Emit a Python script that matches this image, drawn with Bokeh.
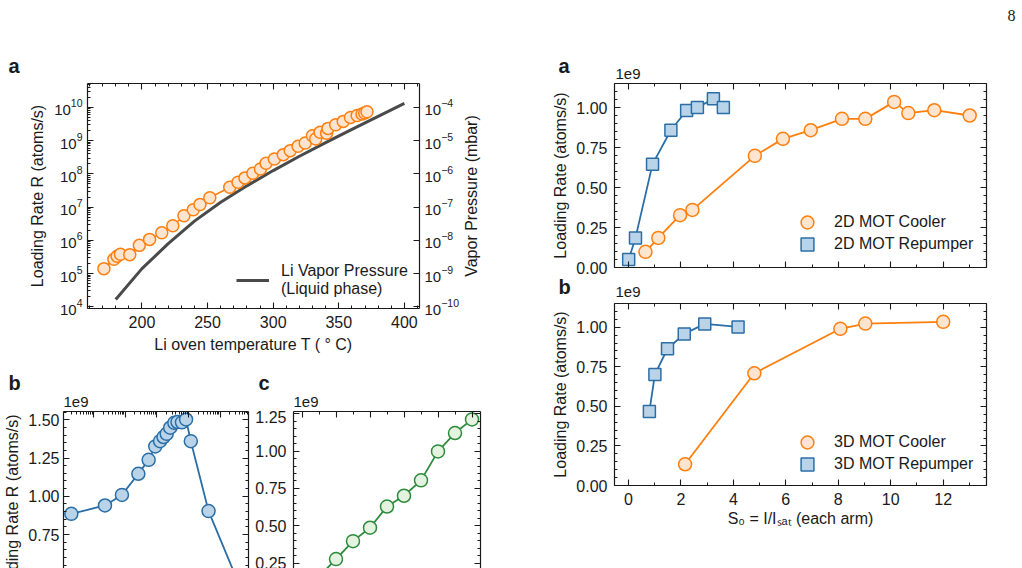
import math
from bokeh.plotting import figure
from bokeh.layouts import row, column
from bokeh.models import (Range1d, LogScale, LinearAxis, LogAxis, FixedTicker,
                          SingleIntervalTicker, CustomJSTickFormatter, LogTickFormatter,
                          NumeralTickFormatter, Label, Legend, LegendItem)
from bokeh.embed import file_html
from bokeh.resources import INLINE

FONT = "Liberation Sans"
INK = "#1a1a1a"
ORANGE = "#ff7f0e"
ORANGE_FILL = "#ffe5cf"
BLUE = "#2b6ea6"
BLUE_FILL = "#b9d4e9"
GREEN = "#2e8b3e"
GREEN_FILL = "#e4f3df"
CURVE = "#4a4a4a"

# ---------------- data: panel a (left) ----------------
oven_T = [171.0, 178.6, 181.1, 183.6, 190.7, 198.0, 205.8, 215.1, 223.5, 232.0,
          239.1, 244.2, 251.7, 266.9, 273.2, 278.5, 284.5, 290.3, 294.6, 300.9,
          307.7, 313.0, 319.0, 324.4, 329.9, 332.4, 335.7, 340.7, 341.8, 347.6,
          353.4, 358.9, 364.0, 367.7, 369.7, 371.5]
loading_rate = [1.41e5, 2.69e5, 3.31e5, 3.80e5, 3.72e5, 7.08e5, 1.07e6, 1.70e6, 2.75e6, 5.50e6,
                8.32e6, 1.20e7, 1.91e7, 3.98e7, 5.62e7, 7.59e7, 1.05e8, 1.41e8, 2.09e8, 2.82e8,
                3.80e8, 5.01e8, 6.76e8, 8.51e8, 1.41e9, 1.12e9, 1.78e9, 1.66e9, 2.34e9, 3.02e9,
                3.80e9, 5.01e9, 5.75e9, 6.31e9, 6.76e9, 7.41e9]
vp_T = [180, 200, 220, 240, 260, 280, 300, 320, 340, 360, 380, 400]
vp_mbar = [1.66e-10, 1.41e-9, 7.94e-9, 3.80e-8, 1.41e-7, 4.37e-7, 1.26e-6, 3.39e-6,
           8.71e-6, 2.19e-5, 5.37e-5, 1.32e-4]

# ---------------- data: panel b (left, log x) ----------------
b_x = [0.20, 2.3, 7.9, 26, 55, 89, 126, 162, 204, 263, 355, 447, 617, 832, 1175, 4266, 41700]
b_rate = [0.885, 0.940, 1.009, 1.147, 1.238, 1.326, 1.360, 1.387, 1.408, 1.448, 1.480,
          1.485, 1.483, 1.502, 1.360, 0.903, 0.410]

# ---------------- data: panel c (left) ----------------
c_x = [0, 1, 2, 3, 4, 5, 6, 7, 8, 9, 10]
c_rate = [0.05, 0.16, 0.277, 0.397, 0.487, 0.629, 0.701, 0.804, 0.998, 1.121, 1.212]

# ---------------- data: right panels ----------------
s2d_cool = [0.65, 1.14, 1.97, 2.44, 4.82, 5.89, 6.95, 8.14, 9.03, 10.13, 10.67, 11.66, 13.01]
r2d_cool = [0.098, 0.185, 0.327, 0.360, 0.698, 0.804, 0.858, 0.929, 0.929, 1.035, 0.965, 0.983, 0.950]
s2d_rep = [0.01, 0.27, 0.92, 1.62, 2.22, 2.63, 3.24, 3.62]
r2d_rep = [0.05, 0.185, 0.646, 0.858, 0.981, 1.0, 1.054, 1.0]
s3d_cool = [2.16, 4.80, 8.08, 9.03, 12.0]
r3d_cool = [0.134, 0.709, 0.99, 1.023, 1.034]
s3d_rep = [0.80, 1.01, 1.49, 2.13, 2.91, 4.18]
r3d_rep = [0.468, 0.702, 0.864, 0.958, 1.021, 1.002]


def style_axis(ax, labels=True):
    ax.axis_line_color = INK
    ax.axis_line_width = 1.2
    ax.major_tick_in = 6
    ax.major_tick_out = 0
    ax.minor_tick_in = 3
    ax.minor_tick_out = 0
    ax.major_tick_line_color = INK
    ax.minor_tick_line_color = INK
    ax.major_tick_line_width = 1.1
    ax.minor_tick_line_width = 1.0
    ax.major_label_text_font = FONT
    ax.major_label_text_font_size = "16px"
    ax.major_label_text_color = INK
    ax.major_label_standoff = 7
    ax.axis_label_text_font = FONT
    ax.axis_label_text_font_size = "16px"
    ax.axis_label_text_font_style = "normal"
    ax.axis_label_text_color = INK
    ax.axis_label_standoff = 5
    if not labels:
        ax.formatter = CustomJSTickFormatter(code="return '';")
        ax.major_label_text_font_size = "0px"
        ax.major_label_standoff = 0


def base(fig):
    fig.grid.visible = False
    fig.outline_line_color = None
    fig.background_fill_color = "white"
    fig.border_fill_color = "white"
    if "frame_align" in fig.properties():
        fig.frame_align = False


def strip(w, h):
    s = figure(width=w, height=h, x_range=Range1d(0, w), y_range=Range1d(0, h),
               x_axis_location=None, y_axis_location=None,
               min_border_left=0, min_border_right=0, min_border_top=0, min_border_bottom=0,
               output_backend="svg", toolbar_location=None)
    base(s)
    return s


def txt(fig, x, y, s, size="16px", bold=False, font=FONT, **kw):
    fig.add_layout(Label(x=x, y=y, text=s, text_font=font, text_font_size=size,
                         text_font_style="bold" if bold else "normal",
                         text_color=INK, **kw))


def legend_one(fig, label, rend, x, y):
    fig.add_layout(Legend(items=[LegendItem(label=label, renderers=[rend])],
                          location=(x, y), border_line_color=None, background_fill_alpha=0,
                          padding=0, margin=0, glyph_width=32, glyph_height=32,
                          label_standoff=11, label_text_font=FONT,
                          label_text_font_size="16px", label_text_color=INK))


# ================= Panel a (left) =================
stripA = strip(510, 82)
txt(stripA, 8, 5.3, "a", size="20px", bold=True)

figA = figure(width=461, height=280, x_range=Range1d(158.5, 411.5),
              y_range=Range1d(10 ** 3.95, 10 ** 10.72), y_axis_type="log",
              min_border_left=87, min_border_right=42, min_border_top=1, min_border_bottom=54,
              output_backend="svg", toolbar_location=None)
base(figA)
figA.extra_y_ranges = {"vp": Range1d(10 ** -10.05, 10 ** -3.28)}
figA.extra_y_scales = {"vp": LogScale()}

xt = SingleIntervalTicker(interval=50, num_minor_ticks=5)
yt = FixedTicker(ticks=[10.0 ** k for k in range(4, 11)],
                 minor_ticks=[m * 10.0 ** k for k in range(3, 11) for m in range(2, 10)])
vt = FixedTicker(ticks=[10.0 ** k for k in range(-10, -3)], minor_ticks=[])

xa = figA.xaxis[0]
xa.ticker = xt
xa.axis_label = "Li oven temperature T ( \u00b0 C)"
style_axis(xa)
ya = figA.yaxis[0]
ya.ticker = yt
ya.formatter = LogTickFormatter()
ya.axis_label = "Loading Rate R (atoms/s)"
style_axis(ya)
ya.major_label_text_font_size = "15px"
ya.major_label_standoff = 5

top_a = LinearAxis(ticker=xt)
style_axis(top_a, labels=False)
figA.add_layout(top_a, "above")
right_a = LogAxis(y_range_name="vp", ticker=vt, formatter=LogTickFormatter())
style_axis(right_a)
right_a.major_label_text_font_size = "15px"
right_a.major_label_standoff = 5
figA.add_layout(right_a, "right")

curve = figA.line(vp_T, vp_mbar, y_range_name="vp", line_color=CURVE, line_width=3)
figA.line(oven_T, loading_rate, line_color=ORANGE, line_width=1.6)
figA.scatter(oven_T, loading_rate, marker="circle", size=12, line_color=ORANGE,
             line_width=1.5, fill_color=ORANGE_FILL)
legA = Legend(items=[LegendItem(label="Li Vapor Pressure\n(Liquid phase)", renderers=[curve])],
              location=(149, 9), border_line_color=None, background_fill_alpha=0,
              padding=0, margin=0, glyph_width=33, glyph_height=38, label_standoff=12,
              label_text_font=FONT, label_text_font_size="16px", label_text_color=INK)
figA.add_layout(legA)

stripV = strip(49, 280)
txt(stripV, 10, 166.5, "Vapor Pressure (mbar)", angle=math.pi / 2,
    text_align="center", text_baseline="middle")

# ================= labels strip between a and b/c =================
stripBC = strip(510, 48)
txt(stripBC, 8, 17, "b", size="20px", bold=True)
txt(stripBC, 63, 3.7, "1e9", size="15px")
txt(stripBC, 258, 17, "c", size="20px", bold=True)
txt(stripBC, 293, 3.7, "1e9", size="15px")

stripRot = strip(24, 158)
txt(stripRot, 12, 154, "Loading Rate R (atoms/s)", angle=math.pi / 2,
    text_align="right", text_baseline="middle")

# ================= Panel b (left) =================
figB = figure(width=228, height=158, x_axis_type="log",
              x_range=Range1d(10 ** -0.946, 10 ** 4.89), y_range=Range1d(0.528, 1.554),
              x_axis_location="above",
              min_border_left=39, min_border_right=4, min_border_top=1, min_border_bottom=0,
              output_backend="svg", toolbar_location=None)
base(figB)
bxt = FixedTicker(ticks=[10.0 ** k for k in range(-1, 6)],
                  minor_ticks=[m * 10.0 ** k for k in range(-2, 6) for m in range(2, 10)])
byt = SingleIntervalTicker(interval=0.25, num_minor_ticks=5)
figB.xaxis[0].ticker = bxt
style_axis(figB.xaxis[0], labels=False)
figB.yaxis[0].ticker = byt
figB.yaxis[0].formatter = NumeralTickFormatter(format="0.00")
style_axis(figB.yaxis[0])
figB.yaxis[0].major_label_standoff = 4
rb = LinearAxis(ticker=byt)
style_axis(rb, labels=False)
figB.add_layout(rb, "right")
figB.line(b_x, b_rate, line_color=BLUE, line_width=1.8)
figB.scatter(b_x, b_rate, marker="circle", size=13, line_color=BLUE, line_width=1.5,
             fill_color=BLUE_FILL)

# ================= Panel c (left) =================
figC = figure(width=258, height=158, x_range=Range1d(-0.5, 10.5), y_range=Range1d(0.214, 1.265),
              x_axis_location="above",
              min_border_left=41, min_border_right=30, min_border_top=1, min_border_bottom=0,
              output_backend="svg", toolbar_location=None)
base(figC)
cxt = SingleIntervalTicker(interval=2, num_minor_ticks=2)
cyt = SingleIntervalTicker(interval=0.25, num_minor_ticks=5)
figC.xaxis[0].ticker = cxt
style_axis(figC.xaxis[0], labels=False)
figC.yaxis[0].ticker = cyt
figC.yaxis[0].formatter = NumeralTickFormatter(format="0.00")
style_axis(figC.yaxis[0])
rc = LinearAxis(ticker=cyt)
style_axis(rc, labels=False)
figC.add_layout(rc, "right")
figC.line(c_x, c_rate, line_color=GREEN, line_width=1.8)
figC.scatter(c_x, c_rate, marker="circle", size=13, line_color=GREEN, line_width=1.5,
             fill_color=GREEN_FILL)


# ================= Right panels =================
def right_panel(height, top, bottom, xs_c, ys_c, xs_r, ys_r, lab_c, lab_r, show_x, leg_y1, leg_y2):
    f = figure(width=512, height=height, x_range=Range1d(-0.53, 13.65), y_range=Range1d(0, 1.15),
               min_border_left=104, min_border_right=36, min_border_top=top,
               min_border_bottom=bottom, output_backend="svg", toolbar_location=None)
    base(f)
    xt_ = SingleIntervalTicker(interval=2, num_minor_ticks=2)
    yt_ = SingleIntervalTicker(interval=0.25, num_minor_ticks=5)
    f.xaxis[0].ticker = xt_
    style_axis(f.xaxis[0], labels=show_x)
    if show_x:
        f.xaxis[0].axis_label = "S\u2080 = I/I\u209b\u2090\u209c (each arm)"
        f.xaxis[0].axis_label_standoff = 2
    f.yaxis[0].ticker = yt_
    f.yaxis[0].formatter = NumeralTickFormatter(format="0.00")
    f.yaxis[0].axis_label = "Loading Rate (atoms/s)"
    style_axis(f.yaxis[0])
    f.yaxis[0].axis_label_standoff = 4
    ta = LinearAxis(ticker=xt_)
    style_axis(ta, labels=False)
    f.add_layout(ta, "above")
    ra = LinearAxis(ticker=yt_)
    style_axis(ra, labels=False)
    f.add_layout(ra, "right")
    f.line(xs_c, ys_c, line_color=ORANGE, line_width=1.8)
    rc_ = f.scatter(xs_c, ys_c, marker="circle", size=13, line_color=ORANGE, line_width=1.5,
                    fill_color=ORANGE_FILL)
    f.line(xs_r, ys_r, line_color=BLUE, line_width=1.8)
    rr_ = f.scatter(xs_r, ys_r, marker="square", size=12, line_color=BLUE, line_width=1.5,
                    fill_color=BLUE_FILL)
    legend_one(f, lab_c, rc_, 177, leg_y1)
    legend_one(f, lab_r, rr_, 177, leg_y2)
    return f


stripR1 = strip(512, 82)
txt(stripR1, 48, 5.3, "a", size="20px", bold=True)
txt(stripR1, 105, 3.8, "1e9", size="15px")
txt(stripR1, 497, 62, "8", size="16px", font="Liberation Serif")

figRA = right_panel(195, 1, 10, s2d_cool, r2d_cool, s2d_rep, r2d_rep,
                    "2D MOT Cooler", "2D MOT Repumper", False, 29, 7)

stripR2 = strip(512, 25)
txt(stripR2, 48, 4.8, "b", size="20px", bold=True)
txt(stripR2, 105, 5.3, "1e9", size="15px")

figRB = right_panel(266, 1, 83, s3d_cool, r3d_cool, s3d_rep, r3d_rep,
                    "3D MOT Cooler", "3D MOT Repumper", True, 27, 5)

left = column(stripA, row(figA, stripV), stripBC, row(stripRot, figB, figC))
right = column(stripR1, figRA, stripR2, figRB)
layout = row(left, right)
open("out.html", "w").write(file_html(layout, INLINE))
